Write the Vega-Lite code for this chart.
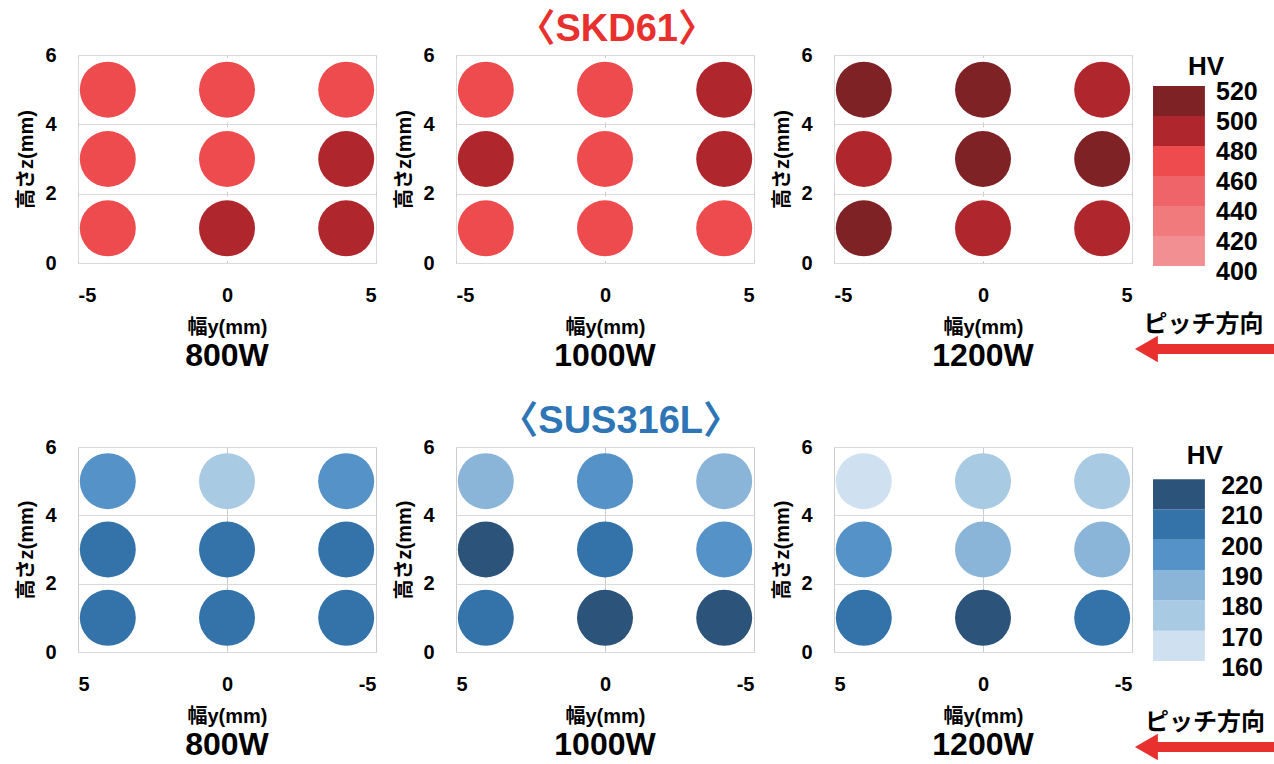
{
  "$schema": "https://vega.github.io/schema/vega-lite/v6.json",
  "background": "white",
  "padding": {"left": 16, "top": 10, "right": 0, "bottom": 0},
  "datasets": {
    "skd": [
      {"power": "800W", "y": -4, "z": 5, "hv": 470}, {"power": "800W", "y": 0, "z": 5, "hv": 470}, {"power": "800W", "y": 4, "z": 5, "hv": 470},
      {"power": "800W", "y": -4, "z": 3, "hv": 470}, {"power": "800W", "y": 0, "z": 3, "hv": 470}, {"power": "800W", "y": 4, "z": 3, "hv": 490},
      {"power": "800W", "y": -4, "z": 1, "hv": 470}, {"power": "800W", "y": 0, "z": 1, "hv": 490}, {"power": "800W", "y": 4, "z": 1, "hv": 490},
      {"power": "1000W", "y": -4, "z": 5, "hv": 470}, {"power": "1000W", "y": 0, "z": 5, "hv": 470}, {"power": "1000W", "y": 4, "z": 5, "hv": 490},
      {"power": "1000W", "y": -4, "z": 3, "hv": 490}, {"power": "1000W", "y": 0, "z": 3, "hv": 470}, {"power": "1000W", "y": 4, "z": 3, "hv": 490},
      {"power": "1000W", "y": -4, "z": 1, "hv": 470}, {"power": "1000W", "y": 0, "z": 1, "hv": 470}, {"power": "1000W", "y": 4, "z": 1, "hv": 470},
      {"power": "1200W", "y": -4, "z": 5, "hv": 510}, {"power": "1200W", "y": 0, "z": 5, "hv": 510}, {"power": "1200W", "y": 4, "z": 5, "hv": 490},
      {"power": "1200W", "y": -4, "z": 3, "hv": 490}, {"power": "1200W", "y": 0, "z": 3, "hv": 510}, {"power": "1200W", "y": 4, "z": 3, "hv": 510},
      {"power": "1200W", "y": -4, "z": 1, "hv": 510}, {"power": "1200W", "y": 0, "z": 1, "hv": 490}, {"power": "1200W", "y": 4, "z": 1, "hv": 490}
    ],
    "sus": [
      {"power": "800W", "y": 4, "z": 5, "hv": 195}, {"power": "800W", "y": 0, "z": 5, "hv": 175}, {"power": "800W", "y": -4, "z": 5, "hv": 195},
      {"power": "800W", "y": 4, "z": 3, "hv": 205}, {"power": "800W", "y": 0, "z": 3, "hv": 205}, {"power": "800W", "y": -4, "z": 3, "hv": 205},
      {"power": "800W", "y": 4, "z": 1, "hv": 205}, {"power": "800W", "y": 0, "z": 1, "hv": 205}, {"power": "800W", "y": -4, "z": 1, "hv": 205},
      {"power": "1000W", "y": 4, "z": 5, "hv": 185}, {"power": "1000W", "y": 0, "z": 5, "hv": 195}, {"power": "1000W", "y": -4, "z": 5, "hv": 185},
      {"power": "1000W", "y": 4, "z": 3, "hv": 215}, {"power": "1000W", "y": 0, "z": 3, "hv": 205}, {"power": "1000W", "y": -4, "z": 3, "hv": 195},
      {"power": "1000W", "y": 4, "z": 1, "hv": 205}, {"power": "1000W", "y": 0, "z": 1, "hv": 215}, {"power": "1000W", "y": -4, "z": 1, "hv": 215},
      {"power": "1200W", "y": 4, "z": 5, "hv": 165}, {"power": "1200W", "y": 0, "z": 5, "hv": 175}, {"power": "1200W", "y": -4, "z": 5, "hv": 175},
      {"power": "1200W", "y": 4, "z": 3, "hv": 195}, {"power": "1200W", "y": 0, "z": 3, "hv": 185}, {"power": "1200W", "y": -4, "z": 3, "hv": 185},
      {"power": "1200W", "y": 4, "z": 1, "hv": 205}, {"power": "1200W", "y": 0, "z": 1, "hv": 215}, {"power": "1200W", "y": -4, "z": 1, "hv": 205}
    ],
    "legSKD": [{"lo": 400, "hi": 420}, {"lo": 420, "hi": 440}, {"lo": 440, "hi": 460}, {"lo": 460, "hi": 480}, {"lo": 480, "hi": 500}, {"lo": 500, "hi": 520}],
    "labSKD": [{"v": 400}, {"v": 420}, {"v": 440}, {"v": 460}, {"v": 480}, {"v": 500}, {"v": 520}],
    "legSUS": [{"lo": 160, "hi": 170}, {"lo": 170, "hi": 180}, {"lo": 180, "hi": 190}, {"lo": 190, "hi": 200}, {"lo": 200, "hi": 210}, {"lo": 210, "hi": 220}],
    "labSUS": [{"v": 160}, {"v": 170}, {"v": 180}, {"v": 190}, {"v": 200}, {"v": 210}, {"v": 220}],
    "note": [{"unit": "HV", "pitch": "ピッチ方向"}]
  },
  "resolve": {"scale": {"color": "independent"}},
  "spacing": 29,
  "vconcat": [
    {
      "title": {"text": "〈SKD61〉", "color": "#e8302f", "fontSize": 38, "anchor": "middle", "dx": -31, "offset": -4},
      "spacing": 0,
      "hconcat": [
        {
          "spacing": 17,
          "hconcat": [
            {
              "width": 298, "height": 208,
              "data": {"name": "skd"},
              "transform": [{"filter": {"field": "power", "equal": "800W"}}],
              "title": {"text": "800W", "orient": "bottom", "fontSize": 32, "offset": 4},
              "mark": {"type": "circle", "size": 3136, "opacity": 1},
              "encoding": {
                "x": {"field": "y", "type": "quantitative", "scale": {"domain": [-5, 5], "nice": false, "zero": false}, "axis": {"title": "幅y(mm)", "values": [-5, 0, 5], "labelExpr": "datum.value + ''", "gridDash": [5, 64.33], "gridDashOffset": 2.5, "gridColor": "#cccccc"}},
                "y": {"field": "z", "type": "quantitative", "scale": {"domain": [0, 6]}, "axis": {"title": "高さz(mm)", "values": [0, 2, 4, 6]}},
                "color": {"field": "hv", "type": "quantitative", "scale": {"type": "threshold", "domain": [420, 440, 460, 480, 500], "range": ["#f28f92", "#f07a7c", "#ef6468", "#ee4b4e", "#b0262d", "#7f2226"]}, "legend": null}
              }
            },
            {
              "width": 298, "height": 208,
              "data": {"name": "skd"},
              "transform": [{"filter": {"field": "power", "equal": "1000W"}}],
              "title": {"text": "1000W", "orient": "bottom", "fontSize": 32, "offset": 4},
              "mark": {"type": "circle", "size": 3136, "opacity": 1},
              "encoding": {
                "x": {"field": "y", "type": "quantitative", "scale": {"domain": [-5, 5], "nice": false, "zero": false}, "axis": {"title": "幅y(mm)", "values": [-5, 0, 5], "labelExpr": "datum.value + ''", "gridDash": [5, 64.33], "gridDashOffset": 2.5, "gridColor": "#cccccc"}},
                "y": {"field": "z", "type": "quantitative", "scale": {"domain": [0, 6]}, "axis": {"title": "高さz(mm)", "values": [0, 2, 4, 6]}},
                "color": {"field": "hv", "type": "quantitative", "scale": {"type": "threshold", "domain": [420, 440, 460, 480, 500], "range": ["#f28f92", "#f07a7c", "#ef6468", "#ee4b4e", "#b0262d", "#7f2226"]}, "legend": null}
              }
            },
            {
              "width": 298, "height": 208,
              "data": {"name": "skd"},
              "transform": [{"filter": {"field": "power", "equal": "1200W"}}],
              "title": {"text": "1200W", "orient": "bottom", "fontSize": 32, "offset": 4},
              "mark": {"type": "circle", "size": 3136, "opacity": 1},
              "encoding": {
                "x": {"field": "y", "type": "quantitative", "scale": {"domain": [-5, 5], "nice": false, "zero": false}, "axis": {"title": "幅y(mm)", "values": [-5, 0, 5], "labelExpr": "datum.value + ''", "gridDash": [5, 64.33], "gridDashOffset": 2.5, "gridColor": "#cccccc"}},
                "y": {"field": "z", "type": "quantitative", "scale": {"domain": [0, 6]}, "axis": {"title": "高さz(mm)", "values": [0, 2, 4, 6]}},
                "color": {"field": "hv", "type": "quantitative", "scale": {"type": "threshold", "domain": [420, 440, 460, 480, 500], "range": ["#f28f92", "#f07a7c", "#ef6468", "#ee4b4e", "#b0262d", "#7f2226"]}, "legend": null}
              }
            }
          ]
        },
        {
          "width": 141, "height": 307,
          "view": {"stroke": null},
          "layer": [
            {
              "data": {"name": "legSKD"},
              "mark": {"type": "rect"},
              "encoding": {
                "x": {"datum": 0.142, "type": "quantitative", "scale": {"domain": [0, 1], "nice": false, "zero": false}, "axis": null},
                "x2": {"datum": 0.51},
                "y": {"field": "lo", "type": "quantitative", "scale": {"domain": [336, 540.7], "nice": false, "zero": false}, "axis": null},
                "y2": {"field": "hi"},
                "color": {"field": "lo", "type": "quantitative", "scale": {"type": "threshold", "domain": [420, 440, 460, 480, 500], "range": ["#f28f92", "#f07a7c", "#ef6468", "#ee4b4e", "#b0262d", "#7f2226"]}, "legend": null}
              }
            },
            {
              "data": {"name": "labSKD"},
              "mark": {"type": "text", "align": "left", "baseline": "middle", "dy": 6, "fontSize": 25, "fontWeight": "bold", "color": "#000"},
              "encoding": {
                "x": {"datum": 0.589, "type": "quantitative"},
                "y": {"field": "v", "type": "quantitative"},
                "text": {"field": "v", "type": "quantitative"}
              }
            },
            {
              "data": {"name": "note"},
              "mark": {"type": "text", "align": "center", "baseline": "middle", "fontSize": 26, "fontWeight": "bold", "color": "#000"},
              "encoding": {
                "x": {"datum": 0.518, "type": "quantitative"},
                "y": {"datum": 532.7, "type": "quantitative"},
                "text": {"field": "unit"}
              }
            },
            {
              "data": {"name": "note"},
              "mark": {"type": "text", "align": "center", "baseline": "middle", "fontSize": 24, "fontWeight": "bold", "color": "#000"},
              "encoding": {
                "x": {"datum": 0.5, "type": "quantitative"},
                "y": {"datum": 361, "type": "quantitative"},
                "text": {"field": "pitch"}
              }
            },
            {
              "data": {"name": "note"},
              "mark": {"type": "rule", "color": "#e8302f", "strokeWidth": 10},
              "encoding": {
                "x": {"datum": 0.14, "type": "quantitative"},
                "x2": {"datum": 1},
                "y": {"datum": 344.7, "type": "quantitative"}
              }
            },
            {
              "data": {"name": "note"},
              "mark": {"type": "point", "shape": "triangle-left", "filled": true, "color": "#e8302f", "size": 700, "opacity": 1},
              "encoding": {
                "x": {"datum": 0.095, "type": "quantitative"},
                "y": {"datum": 344.7, "type": "quantitative"}
              }
            }
          ]
        }
      ]
    },
    {
      "title": {"text": "〈SUS316L〉", "color": "#2e75b6", "fontSize": 38, "anchor": "middle", "dx": -27, "offset": -4},
      "spacing": 0,
      "hconcat": [
        {
          "spacing": 17,
          "hconcat": [
            {
              "width": 298, "height": 205,
              "data": {"name": "sus"},
              "transform": [{"filter": {"field": "power", "equal": "800W"}}],
              "title": {"text": "800W", "orient": "bottom", "fontSize": 32, "offset": 4},
              "mark": {"type": "circle", "size": 3136, "opacity": 1},
              "encoding": {
                "x": {"field": "y", "type": "quantitative", "scale": {"domain": [-5, 5], "nice": false, "zero": false, "reverse": true}, "axis": {"title": "幅y(mm)", "values": [-5, 0, 5], "labelExpr": "datum.value + ''", "gridColor": "#cccccc"}},
                "y": {"field": "z", "type": "quantitative", "scale": {"domain": [0, 6]}, "axis": {"title": "高さz(mm)", "values": [0, 2, 4, 6]}},
                "color": {"field": "hv", "type": "quantitative", "scale": {"type": "threshold", "domain": [170, 180, 190, 200, 210], "range": ["#cfe1f0", "#a9cae3", "#8ab5d8", "#5492c7", "#3373aa", "#2c5379"]}, "legend": null}
              }
            },
            {
              "width": 298, "height": 205,
              "data": {"name": "sus"},
              "transform": [{"filter": {"field": "power", "equal": "1000W"}}],
              "title": {"text": "1000W", "orient": "bottom", "fontSize": 32, "offset": 4},
              "mark": {"type": "circle", "size": 3136, "opacity": 1},
              "encoding": {
                "x": {"field": "y", "type": "quantitative", "scale": {"domain": [-5, 5], "nice": false, "zero": false, "reverse": true}, "axis": {"title": "幅y(mm)", "values": [-5, 0, 5], "labelExpr": "datum.value + ''", "gridColor": "#cccccc"}},
                "y": {"field": "z", "type": "quantitative", "scale": {"domain": [0, 6]}, "axis": {"title": "高さz(mm)", "values": [0, 2, 4, 6]}},
                "color": {"field": "hv", "type": "quantitative", "scale": {"type": "threshold", "domain": [170, 180, 190, 200, 210], "range": ["#cfe1f0", "#a9cae3", "#8ab5d8", "#5492c7", "#3373aa", "#2c5379"]}, "legend": null}
              }
            },
            {
              "width": 298, "height": 205,
              "data": {"name": "sus"},
              "transform": [{"filter": {"field": "power", "equal": "1200W"}}],
              "title": {"text": "1200W", "orient": "bottom", "fontSize": 32, "offset": 4},
              "mark": {"type": "circle", "size": 3136, "opacity": 1},
              "encoding": {
                "x": {"field": "y", "type": "quantitative", "scale": {"domain": [-5, 5], "nice": false, "zero": false, "reverse": true}, "axis": {"title": "幅y(mm)", "values": [-5, 0, 5], "labelExpr": "datum.value + ''", "gridColor": "#cccccc"}},
                "y": {"field": "z", "type": "quantitative", "scale": {"domain": [0, 6]}, "axis": {"title": "高さz(mm)", "values": [0, 2, 4, 6]}},
                "color": {"field": "hv", "type": "quantitative", "scale": {"type": "threshold", "domain": [170, 180, 190, 200, 210], "range": ["#cfe1f0", "#a9cae3", "#8ab5d8", "#5492c7", "#3373aa", "#2c5379"]}, "legend": null}
              }
            }
          ]
        },
        {
          "width": 141, "height": 311,
          "view": {"stroke": null},
          "layer": [
            {
              "data": {"name": "legSUS"},
              "mark": {"type": "rect"},
              "encoding": {
                "x": {"datum": 0.142, "type": "quantitative", "scale": {"domain": [0, 1], "nice": false, "zero": false}, "axis": null},
                "x2": {"datum": 0.51},
                "y": {"field": "lo", "type": "quantitative", "scale": {"domain": [128, 230.6], "nice": false, "zero": false}, "axis": null},
                "y2": {"field": "hi"},
                "color": {"field": "lo", "type": "quantitative", "scale": {"type": "threshold", "domain": [170, 180, 190, 200, 210], "range": ["#cfe1f0", "#a9cae3", "#8ab5d8", "#5492c7", "#3373aa", "#2c5379"]}, "legend": null}
              }
            },
            {
              "data": {"name": "labSUS"},
              "mark": {"type": "text", "align": "left", "baseline": "middle", "dy": 7, "fontSize": 25, "fontWeight": "bold", "color": "#000"},
              "encoding": {
                "x": {"datum": 0.625, "type": "quantitative"},
                "y": {"field": "v", "type": "quantitative"},
                "text": {"field": "v", "type": "quantitative"}
              }
            },
            {
              "data": {"name": "note"},
              "mark": {"type": "text", "align": "center", "baseline": "middle", "fontSize": 26, "fontWeight": "bold", "color": "#000"},
              "encoding": {
                "x": {"datum": 0.51, "type": "quantitative"},
                "y": {"datum": 227.6, "type": "quantitative"},
                "text": {"field": "unit"}
              }
            },
            {
              "data": {"name": "note"},
              "mark": {"type": "text", "align": "center", "baseline": "middle", "fontSize": 24, "fontWeight": "bold", "color": "#000"},
              "encoding": {
                "x": {"datum": 0.51, "type": "quantitative"},
                "y": {"datum": 139.5, "type": "quantitative"},
                "text": {"field": "pitch"}
              }
            },
            {
              "data": {"name": "note"},
              "mark": {"type": "rule", "color": "#e8302f", "strokeWidth": 10},
              "encoding": {
                "x": {"datum": 0.14, "type": "quantitative"},
                "x2": {"datum": 1},
                "y": {"datum": 131.6, "type": "quantitative"}
              }
            },
            {
              "data": {"name": "note"},
              "mark": {"type": "point", "shape": "triangle-left", "filled": true, "color": "#e8302f", "size": 700, "opacity": 1},
              "encoding": {
                "x": {"datum": 0.095, "type": "quantitative"},
                "y": {"datum": 131.6, "type": "quantitative"}
              }
            }
          ]
        }
      ]
    }
  ],
  "config": {
    "font": "Liberation Sans, Noto Sans CJK JP",
    "view": {"stroke": "#d9d9d9"},
    "title": {"font": "Liberation Sans, Noto Sans CJK JP", "fontWeight": "bold", "color": "#000"},
    "text": {"font": "Liberation Sans, Noto Sans CJK JP"},
    "axis": {
      "labelFont": "Liberation Sans, Noto Sans CJK JP", "titleFont": "Liberation Sans, Noto Sans CJK JP",
      "labelFontWeight": "bold", "titleFontWeight": "bold",
      "labelColor": "#000", "titleColor": "#000",
      "labelFontSize": 20, "titleFontSize": 20,
      "domain": false, "ticks": false,
      "gridColor": "#d9d9d9", "labelOverlap": false
    },
    "axisX": {"labelPadding": 22, "titlePadding": 12},
    "axisY": {"labelPadding": 22, "titlePadding": 8}
  }
}
